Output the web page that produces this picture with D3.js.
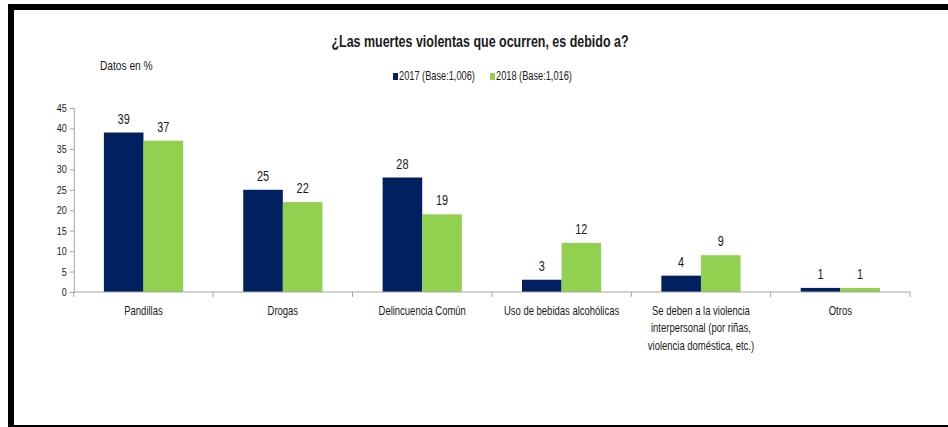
<!DOCTYPE html>
<html>
<head>
<meta charset="utf-8">
<script src="https://cdn.jsdelivr.net/npm/d3@7"></script>
<style>
  body { margin: 0; background: #fff; }
  svg text { font-family: "Liberation Sans", Arial, sans-serif; }
</style>
</head>
<body>
<svg width="948" height="427"></svg>
<script>
const categories = ["Pandillas", "Drogas", "Delincuencia Común", "Uso de bebidas alcohólicas",
  "Se deben a la violencia interpersonal (por riñas, violencia doméstica, etc.)", "Otros"];
const series = ["2017 (Base:1,006)", "2018 (Base:1,016)"];
const values2017 = [39, 25, 28, 3, 4, 1];
const values2018 = [37, 22, 19, 12, 9, 1];
const yTicks = [0, 5, 10, 15, 20, 25, 30, 35, 40, 45];
const colors = ["#002060", "#92d050"];
const ink = "#1a1a1a";

const svg = d3.select("svg");

// condensed text: squeeze a normal font sideways to look like Calibri
function ctext(parent, x, y, str, size, anchor, sx, weight) {
  const g = parent.append("g").attr("transform", `translate(${x},${y}) scale(${sx},1)`);
  return g.append("text")
      .attr("text-anchor", anchor || "start")
      .attr("font-size", size)
      .attr("font-weight", weight || "normal")
      .attr("fill", ink)
      .text(str);
}

// frame
svg.append("rect").attr("x", 8).attr("y", 4).attr("width", 940).attr("height", 6).attr("fill", "#000");
svg.append("rect").attr("x", 8).attr("y", 4).attr("width", 6).attr("height", 423).attr("fill", "#000");
svg.append("rect").attr("x", 8).attr("y", 425).attr("width", 940).attr("height", 2).attr("fill", "#000");

const plotL = 73.8, plotR = 910, plotT = 108, plotB = 292;

const x = d3.scaleBand().domain(categories).range([plotL, plotR]).padding(0);
const xs = d3.scaleBand().domain(series).range([0, x.bandwidth()]).paddingInner(0).paddingOuter(0.76);
const y = d3.scaleLinear().domain([0, 45]).range([plotB, plotT]);

ctext(svg, 480, 47, "¿Las muertes violentas que ocurren, es debido a?", 16, "middle", 0.78, "bold");
ctext(svg, 100, 70, "Datos en %", 12, "start", 0.85);

// legend
const lx = [393, 490];
series.forEach((s, i) => {
  svg.append("rect").attr("x", lx[i]).attr("y", 73).attr("width", 5).attr("height", 7).attr("fill", colors[i]);
  ctext(svg, lx[i] + 6, 80, s, 12, "start", 0.77);
});

// y axis
const yAxis = svg.append("g")
    .attr("transform", `translate(${plotL},0)`)
    .call(d3.axisLeft(y).tickValues(yTicks).tickSize(4).tickFormat(""));
yAxis.select(".domain").attr("stroke", "#a6a6a6");
yAxis.selectAll(".tick line").attr("stroke", "#a6a6a6");
yTicks.forEach(t => ctext(svg, plotL - 7, y(t) + 4, t, 11, "end", 0.82));

// bars
const groups = svg.selectAll(".grp").data(categories).join("g")
    .attr("transform", d => `translate(${x(d)},0)`);
const rows = i => [
  { s: series[0], v: values2017[i], c: colors[0] },
  { s: series[1], v: values2018[i], c: colors[1] }
];
groups.each(function (c, i) {
  const g = d3.select(this);
  g.selectAll("rect").data(rows(i)).join("rect")
      .attr("x", d => xs(d.s))
      .attr("y", d => y(d.v))
      .attr("width", xs.bandwidth())
      .attr("height", d => y(0) - y(d.v))
      .attr("fill", d => d.c);
  rows(i).forEach(d => ctext(g, xs(d.s) + xs.bandwidth() / 2, y(d.v) - 9, d.v, 14, "middle", 0.78));
});

// x axis
const xAxis = svg.append("g").attr("transform", `translate(0,${plotB})`);
xAxis.append("line").attr("x1", plotL).attr("x2", plotR).attr("stroke", "#a6a6a6").attr("stroke-width", 1.2);
xAxis.selectAll(".tk").data(categories.map(c => x(c)).concat([plotR])).join("line")
    .attr("x1", d => d).attr("x2", d => d).attr("y1", 0).attr("y2", 5)
    .attr("stroke", "#a6a6a6");

const sx = 0.79;
categories.forEach(c => {
  const t = ctext(xAxis, x(c) + x.bandwidth() / 2, 23, c, 12, "middle", sx);
  wrap(t, 125 / sx);
});

function wrap(t, width) {
  const words = t.text().split(/\s+/);
  t.text(null);
  let line = [], n = 0;
  let ts = t.append("tspan").attr("x", 0).attr("y", 0);
  words.forEach(w => {
    line.push(w);
    ts.text(line.join(" "));
    if (ts.node().getComputedTextLength() > width && line.length > 1) {
      line.pop();
      ts.text(line.join(" "));
      line = [w];
      n++;
      ts = t.append("tspan").attr("x", 0).attr("y", n * 17.5).text(w);
    }
  });
}
</script>
</body>
</html>
